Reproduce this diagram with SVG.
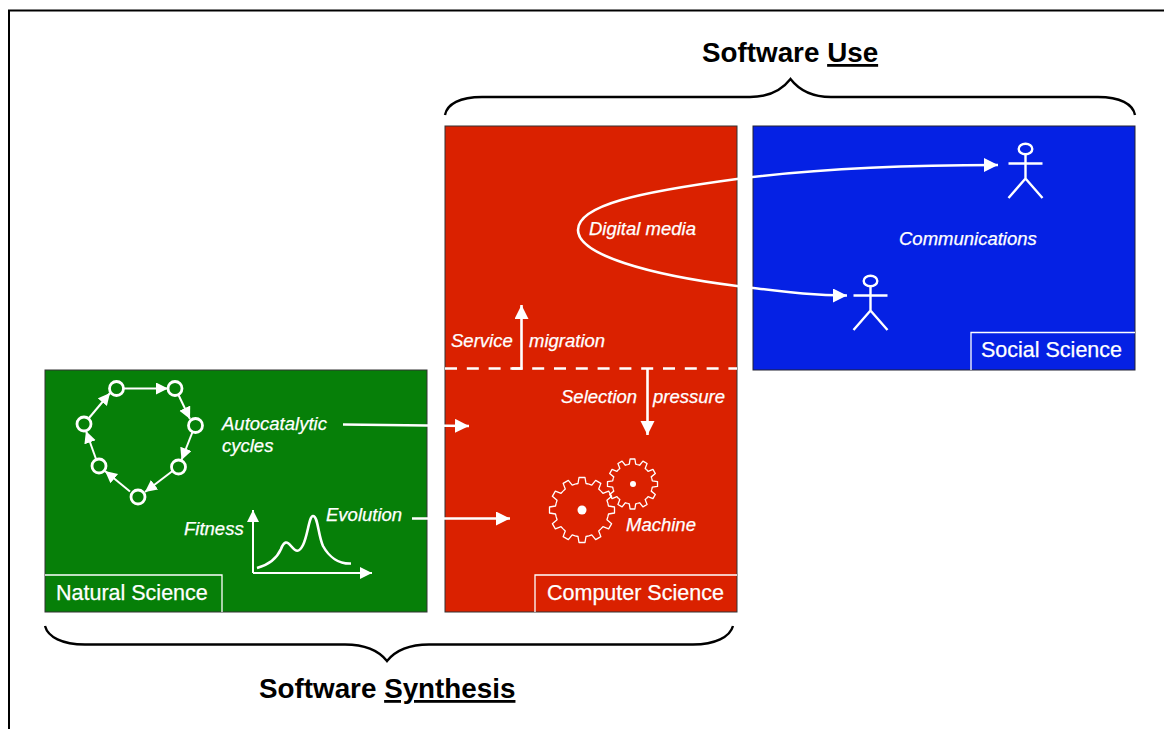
<svg xmlns="http://www.w3.org/2000/svg" width="1164" height="729" viewBox="0 0 1164 729">
<style>
text{font-family:"Liberation Sans",Arial,sans-serif;fill:#fff}
.i{font-style:italic;font-size:18.500px;stroke:#fff;stroke-width:.25}
.l{font-size:21.500px;stroke:#fff;stroke-width:.25}
.h{font-weight:bold;font-size:27.800px;fill:#000}
.u{text-decoration:underline}
.w{fill:none;stroke:#fff;stroke-width:2.600}
.t{fill:none;stroke:#fff;stroke-width:2}
.b{fill:none;stroke:#000;stroke-width:2.400}
.box{fill:none;stroke:#fff;stroke-width:1.300}
.g{fill:none;stroke:#fff;stroke-width:1.300;stroke-linejoin:round}
.n{fill:none;stroke:#fff;stroke-width:2.800}
</style>
<defs>
<marker id="big" markerUnits="userSpaceOnUse" markerWidth="16" markerHeight="16" refX="14" refY="7" orient="auto-start-reverse"><path d="M0 0L14 7L0 14Z" fill="#fff"/></marker>
<marker id="small" markerUnits="userSpaceOnUse" markerWidth="14" markerHeight="14" refX="12" refY="6" orient="auto"><path d="M0 0L12 6L0 12Z" fill="#fff"/></marker>
<path id="t1" class="g" d="M-6.900-25.800L-4-26.500L-3-32.500L3-32.500L4-26.500L6.900-25.800"/>
<path id="t2" class="g" d="M-5.200-19.400L-3.200-19.800L-2.400-25L2.400-25L3.200-19.800L5.200-19.400"/>
<g id="gear1"><use href="#t1"/><use href="#t1" transform="rotate(30)"/><use href="#t1" transform="rotate(60)"/><use href="#t1" transform="rotate(90)"/><use href="#t1" transform="rotate(120)"/><use href="#t1" transform="rotate(150)"/><use href="#t1" transform="rotate(180)"/><use href="#t1" transform="rotate(210)"/><use href="#t1" transform="rotate(240)"/><use href="#t1" transform="rotate(270)"/><use href="#t1" transform="rotate(300)"/><use href="#t1" transform="rotate(330)"/></g>
<g id="gear2"><use href="#t2"/><use href="#t2" transform="rotate(30)"/><use href="#t2" transform="rotate(60)"/><use href="#t2" transform="rotate(90)"/><use href="#t2" transform="rotate(120)"/><use href="#t2" transform="rotate(150)"/><use href="#t2" transform="rotate(180)"/><use href="#t2" transform="rotate(210)"/><use href="#t2" transform="rotate(240)"/><use href="#t2" transform="rotate(270)"/><use href="#t2" transform="rotate(300)"/><use href="#t2" transform="rotate(330)"/></g>
<g id="person" style="fill:none;stroke:#fff;stroke-width:2.400"><ellipse cx="0" cy="0" rx="6.800" ry="5.200"/><path d="M0 5.200V29.500M-17 14.500H17M-17 49L0 29.500L17 49"/></g>
</defs>
<rect width="1164" height="729" fill="#fff"/>
<path d="M9 729V10.500H1164" fill="none" stroke="#000" stroke-width="2"/>

<g id="natural-science">
<rect x="45" y="370" width="382" height="242" fill="#067f08" stroke="#333" stroke-width="1"/>
<path class="box" d="M45 575H222V612"/>
<text class="l" x="56" y="599.500">Natural Science</text>
</g>
<g id="computer-science">
<rect x="445" y="126" width="292" height="486" fill="#da2100" stroke="#333" stroke-width="1"/>
<path class="box" d="M535 612V575H737"/>
<text class="l" x="547" y="600">Computer Science</text>
</g>
<g id="social-science">
<rect x="753" y="126" width="382" height="244" fill="#0521e4" stroke="#223" stroke-width="1"/>
<path class="box" d="M971 370V332.500H1135"/>
<text class="l" x="981" y="357">Social Science</text>
</g>

<g id="cycle">
<circle class="n" cx="116.500" cy="388.500" r="7"/><circle class="n" cx="175" cy="388.500" r="7"/><circle class="n" cx="195.500" cy="425.500" r="7"/><circle class="n" cx="178.500" cy="467" r="7"/><circle class="n" cx="138" cy="497" r="7"/><circle class="n" cx="99" cy="466" r="7"/><circle class="n" cx="84" cy="424" r="7"/>
</g>
<g id="fitness-curve">
<path class="w" d="M257 568C268 565 277 558 281 549C284 541 287 541 291 546C296 552 299 553 303 545C308 535 309 516 313 516C318 516 318 535 323 546C329 557 339 564 351 563.500"/>
</g>
<g id="gears">
<use href="#gear1" transform="translate(582 510)"/><circle cx="582" cy="510" r="4.500" fill="#fff"/>
<use href="#gear2" transform="translate(632.500 484)"/><circle cx="633" cy="484" r="3" fill="#fff"/>
</g>
<g id="user-top"><use href="#person" x="1025.500" y="149"/></g>
<g id="user-bottom"><use href="#person" x="870.500" y="281"/></g>

<g id="connectors">
<path class="t" marker-end="url(#small)" d="M123.500 388.500H168"/>
<path class="t" marker-end="url(#small)" d="M178.500 395L190 419"/>
<path class="t" marker-end="url(#small)" d="M192.500 432L181.500 460"/>
<path class="t" marker-end="url(#small)" d="M172.500 471L145 492"/>
<path class="t" marker-end="url(#small)" d="M130 491.500L105 471"/>
<path class="t" marker-end="url(#small)" d="M96 459L86 431"/>
<path class="t" marker-end="url(#small)" d="M89 418L110 393"/>
<path class="t" marker-end="url(#small)" d="M253 573V510"/>
<path class="t" marker-end="url(#small)" d="M253 573H372"/>
<path class="w" marker-end="url(#big)" d="M343 424.500L469 426"/>
<path class="w" marker-end="url(#big)" d="M412 518.500H510"/>
<path class="w" marker-end="url(#big)" d="M512 368.500H521.500V305"/>
<path class="w" marker-end="url(#big)" d="M647.500 369V435"/>
<path class="w" marker-start="url(#big)" marker-end="url(#big)" d="M998 165C880 165 790 172 737 179C640 192 578 205 578 230C578 255 650 275 737 286C780 291 810 295.500 847 295.500"/>
<path d="M445 368.500H737" fill="none" stroke="#fff" stroke-width="2.400" stroke-dasharray="12 9.800"/>
<path class="b" d="M445 115C447 104 460 97 482 97H750C770 97 782 90 790.500 79C799 90 811 97 831 97H1098C1120 97 1133 104 1135 115"/>
<path class="b" d="M45 626C48 637 62 644.500 85 644.500H345C365 644.500 379 651 387 661C395 651 409 644.500 429 644.500H693C715 644.500 730 637 733 626"/>
</g>

<g id="labels">
<text class="i" x="222" y="430">Autocatalytic</text>
<text class="i" x="222" y="452">cycles</text>
<text class="i" x="184" y="535">Fitness</text>
<text class="i" x="326" y="521">Evolution</text>
<text class="i" x="451" y="347">Service</text>
<text class="i" x="529" y="347">migration</text>
<text class="i" x="589" y="235">Digital media</text>
<text class="i" x="561" y="403">Selection</text>
<text class="i" x="653" y="403">pressure</text>
<text class="i" x="626" y="531">Machine</text>
<text class="i" x="899" y="245">Communications</text>
<text class="h" x="702" y="62">Software <tspan class="u">Use</tspan></text>
<text class="h" x="259" y="698">Software <tspan class="u">Synthesis</tspan></text>
</g>
</svg>
